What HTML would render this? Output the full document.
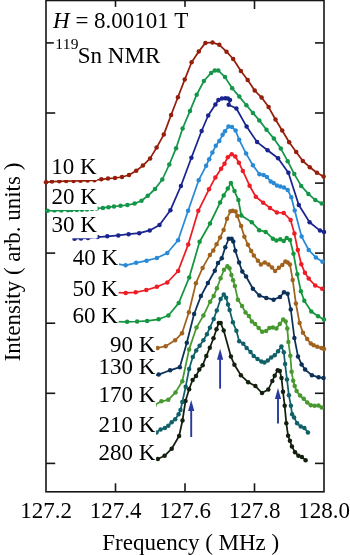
<!DOCTYPE html>
<html><head><meta charset="utf-8"><style>
html,body{margin:0;padding:0;background:#fff;width:350px;height:555px;overflow:hidden}
svg{display:block}
text{font-family:"Liberation Serif",serif;fill:#000}
.t{opacity:0.999}
</style></head><body>
<svg width="350" height="555" viewBox="0 0 350 555">
<rect width="350" height="555" fill="#fff"/>

<g stroke="#161616" stroke-width="1.6" fill="none">
<rect x="46" y="0.5" width="278" height="491.3"/>
<line x1="115.5" y1="491.8" x2="115.5" y2="483.3"/><line x1="115.5" y1="0.5" x2="115.5" y2="9"/>
<line x1="185.0" y1="491.8" x2="185.0" y2="483.3"/><line x1="185.0" y1="0.5" x2="185.0" y2="9"/>
<line x1="254.5" y1="491.8" x2="254.5" y2="483.3"/><line x1="254.5" y1="0.5" x2="254.5" y2="9"/>
<line x1="46" y1="42.9" x2="55.2" y2="42.9"/>
<line x1="324" y1="42.9" x2="315" y2="42.9"/>
<line x1="46" y1="113.0" x2="55.2" y2="113.0"/>
<line x1="324" y1="113.0" x2="315" y2="113.0"/>
<line x1="324" y1="183.1" x2="315" y2="183.1"/>
<line x1="46" y1="253.1" x2="55.2" y2="253.1"/>
<line x1="324" y1="253.1" x2="315" y2="253.1"/>
<line x1="46" y1="323.2" x2="55.2" y2="323.2"/>
<line x1="324" y1="323.2" x2="315" y2="323.2"/>
<line x1="46" y1="393.3" x2="55.2" y2="393.3"/>
<line x1="324" y1="393.3" x2="315" y2="393.3"/>
<line x1="46" y1="463.4" x2="55.2" y2="463.4"/>
<line x1="324" y1="463.4" x2="315" y2="463.4"/>
</g>
<polyline points="150.0,461.5 157.8,459.0 164.6,455.8 171.7,448.7 179.1,436.0 182.5,420.5 185.5,400.9 189.1,389.2 192.6,380.0 196.0,376.1 199.3,369.6 202.7,365.2 206.3,355.9 209.8,347.8 213.5,338.2 216.5,329.2 218.8,323.0 220.7,323.0 223.7,330.6 230.9,356.6 234.4,364.7 240.9,375.3 248.2,382.2 255.4,386.1 262.0,393.0 268.3,389.5 272.3,381.0 274.7,375.8 277.7,370.2 279.8,371.0 281.5,377.9 283.0,391.8 284.7,405.8 286.3,423.2 288.1,435.8 289.9,440.8 291.9,446.5 295.0,452.2 298.4,455.7 301.9,457.1 305.6,460.2" fill="none" stroke="#14200f" stroke-width="1.75" stroke-linejoin="round" stroke-linecap="round"/>
<g fill="#14200f"><circle cx="157.8" cy="459.0" r="2.25"/><circle cx="164.6" cy="455.8" r="2.25"/><circle cx="171.7" cy="448.7" r="2.25"/><circle cx="179.1" cy="436.0" r="2.25"/><circle cx="182.5" cy="420.5" r="2.25"/><circle cx="185.5" cy="400.9" r="2.25"/><circle cx="189.1" cy="389.2" r="2.25"/><circle cx="192.6" cy="380.0" r="2.25"/><circle cx="196.0" cy="376.1" r="2.25"/><circle cx="199.3" cy="369.6" r="2.25"/><circle cx="202.7" cy="365.2" r="2.25"/><circle cx="206.3" cy="355.9" r="2.25"/><circle cx="209.8" cy="347.8" r="2.25"/><circle cx="213.5" cy="338.2" r="2.25"/><circle cx="216.5" cy="329.2" r="2.25"/><circle cx="218.8" cy="323.0" r="2.25"/><circle cx="220.7" cy="323.0" r="2.25"/><circle cx="223.7" cy="330.6" r="2.25"/><circle cx="230.9" cy="356.6" r="2.25"/><circle cx="234.4" cy="364.7" r="2.25"/><circle cx="240.9" cy="375.3" r="2.25"/><circle cx="248.2" cy="382.2" r="2.25"/><circle cx="255.4" cy="386.1" r="2.25"/><circle cx="262.0" cy="393.0" r="2.25"/><circle cx="268.3" cy="389.5" r="2.25"/><circle cx="272.3" cy="381.0" r="2.25"/><circle cx="274.7" cy="375.8" r="2.25"/><circle cx="277.7" cy="370.2" r="2.25"/><circle cx="279.8" cy="371.0" r="2.25"/><circle cx="281.5" cy="377.9" r="2.25"/><circle cx="283.0" cy="391.8" r="2.25"/><circle cx="284.7" cy="405.8" r="2.25"/><circle cx="286.3" cy="423.2" r="2.25"/><circle cx="288.1" cy="435.8" r="2.25"/><circle cx="289.9" cy="440.8" r="2.25"/><circle cx="291.9" cy="446.5" r="2.25"/><circle cx="295.0" cy="452.2" r="2.25"/><circle cx="298.4" cy="455.7" r="2.25"/><circle cx="301.9" cy="457.1" r="2.25"/><circle cx="305.6" cy="460.2" r="2.25"/></g>
<polyline points="150.0,434.5 156.5,432.4 160.6,429.4 164.9,428.0 168.3,425.8 171.7,422.2 175.2,419.3 178.6,414.2 180.5,410.0 182.3,402.1 185.7,386.7 189.1,369.0 192.8,357.0 196.2,350.5 199.6,345.7 203.4,340.3 206.9,334.2 209.9,327.7 213.7,319.0 216.8,310.4 220.6,298.9 223.8,294.6 226.1,297.7 228.0,304.4 229.6,310.0 232.9,322.3 236.4,330.8 239.2,341.3 243.3,343.7 246.6,347.9 250.5,352.0 253.7,355.9 257.5,359.0 261.4,361.6 264.4,362.4 267.8,360.4 271.2,357.6 274.7,355.2 278.1,351.3 281.4,346.4 283.8,352.3 285.1,364.1 287.0,379.5 288.9,395.3 290.9,405.8 292.1,414.2 294.1,417.4 297.1,423.3 300.8,426.6 304.4,428.0 307.9,432.5" fill="none" stroke="#0f6068" stroke-width="1.75" stroke-linejoin="round" stroke-linecap="round"/>
<g fill="#0f6068"><circle cx="156.5" cy="432.4" r="2.25"/><circle cx="160.6" cy="429.4" r="2.25"/><circle cx="164.9" cy="428.0" r="2.25"/><circle cx="168.3" cy="425.8" r="2.25"/><circle cx="171.7" cy="422.2" r="2.25"/><circle cx="175.2" cy="419.3" r="2.25"/><circle cx="178.6" cy="414.2" r="2.25"/><circle cx="180.5" cy="410.0" r="2.25"/><circle cx="182.3" cy="402.1" r="2.25"/><circle cx="185.7" cy="386.7" r="2.25"/><circle cx="189.1" cy="369.0" r="2.25"/><circle cx="192.8" cy="357.0" r="2.25"/><circle cx="196.2" cy="350.5" r="2.25"/><circle cx="199.6" cy="345.7" r="2.25"/><circle cx="203.4" cy="340.3" r="2.25"/><circle cx="206.9" cy="334.2" r="2.25"/><circle cx="209.9" cy="327.7" r="2.25"/><circle cx="213.7" cy="319.0" r="2.25"/><circle cx="216.8" cy="310.4" r="2.25"/><circle cx="220.6" cy="298.9" r="2.25"/><circle cx="223.8" cy="294.6" r="2.25"/><circle cx="226.1" cy="297.7" r="2.25"/><circle cx="228.0" cy="304.4" r="2.25"/><circle cx="229.6" cy="310.0" r="2.25"/><circle cx="232.9" cy="322.3" r="2.25"/><circle cx="236.4" cy="330.8" r="2.25"/><circle cx="239.2" cy="341.3" r="2.25"/><circle cx="243.3" cy="343.7" r="2.25"/><circle cx="246.6" cy="347.9" r="2.25"/><circle cx="250.5" cy="352.0" r="2.25"/><circle cx="253.7" cy="355.9" r="2.25"/><circle cx="257.5" cy="359.0" r="2.25"/><circle cx="261.4" cy="361.6" r="2.25"/><circle cx="264.4" cy="362.4" r="2.25"/><circle cx="267.8" cy="360.4" r="2.25"/><circle cx="271.2" cy="357.6" r="2.25"/><circle cx="274.7" cy="355.2" r="2.25"/><circle cx="278.1" cy="351.3" r="2.25"/><circle cx="281.4" cy="346.4" r="2.25"/><circle cx="283.8" cy="352.3" r="2.25"/><circle cx="285.1" cy="364.1" r="2.25"/><circle cx="287.0" cy="379.5" r="2.25"/><circle cx="288.9" cy="395.3" r="2.25"/><circle cx="290.9" cy="405.8" r="2.25"/><circle cx="292.1" cy="414.2" r="2.25"/><circle cx="294.1" cy="417.4" r="2.25"/><circle cx="297.1" cy="423.3" r="2.25"/><circle cx="300.8" cy="426.6" r="2.25"/><circle cx="304.4" cy="428.0" r="2.25"/><circle cx="307.9" cy="432.5" r="2.25"/></g>
<polyline points="151.0,406.6 154.8,405.0 161.4,401.3 168.3,399.8 175.5,392.4 182.3,381.3 189.1,349.4 196.5,327.5 203.4,315.6 210.1,301.7 213.7,296.0 216.9,288.3 220.6,278.3 224.0,269.7 227.4,266.3 229.5,268.2 231.4,274.9 233.1,280.3 234.9,286.1 237.9,299.8 242.0,305.9 245.5,312.5 248.9,316.1 251.9,321.5 255.1,324.0 258.7,328.1 262.2,331.7 266.1,331.0 269.3,328.1 272.9,327.5 276.4,328.4 279.8,324.0 283.2,319.4 285.7,321.5 287.3,328.4 288.4,342.0 290.3,355.7 291.6,371.8 293.2,380.8 294.7,385.9 296.6,391.1 300.1,395.6 303.7,398.8 307.3,402.6 310.8,405.2 314.6,405.8 318.5,405.6 321.7,407.4" fill="none" stroke="#47992f" stroke-width="1.75" stroke-linejoin="round" stroke-linecap="round"/>
<g fill="#47992f"><circle cx="154.8" cy="405.0" r="2.25"/><circle cx="161.4" cy="401.3" r="2.25"/><circle cx="168.3" cy="399.8" r="2.25"/><circle cx="175.5" cy="392.4" r="2.25"/><circle cx="182.3" cy="381.3" r="2.25"/><circle cx="189.1" cy="349.4" r="2.25"/><circle cx="196.5" cy="327.5" r="2.25"/><circle cx="203.4" cy="315.6" r="2.25"/><circle cx="210.1" cy="301.7" r="2.25"/><circle cx="213.7" cy="296.0" r="2.25"/><circle cx="216.9" cy="288.3" r="2.25"/><circle cx="220.6" cy="278.3" r="2.25"/><circle cx="224.0" cy="269.7" r="2.25"/><circle cx="227.4" cy="266.3" r="2.25"/><circle cx="229.5" cy="268.2" r="2.25"/><circle cx="231.4" cy="274.9" r="2.25"/><circle cx="233.1" cy="280.3" r="2.25"/><circle cx="234.9" cy="286.1" r="2.25"/><circle cx="237.9" cy="299.8" r="2.25"/><circle cx="242.0" cy="305.9" r="2.25"/><circle cx="245.5" cy="312.5" r="2.25"/><circle cx="248.9" cy="316.1" r="2.25"/><circle cx="251.9" cy="321.5" r="2.25"/><circle cx="255.1" cy="324.0" r="2.25"/><circle cx="258.7" cy="328.1" r="2.25"/><circle cx="262.2" cy="331.7" r="2.25"/><circle cx="266.1" cy="331.0" r="2.25"/><circle cx="269.3" cy="328.1" r="2.25"/><circle cx="272.9" cy="327.5" r="2.25"/><circle cx="276.4" cy="328.4" r="2.25"/><circle cx="279.8" cy="324.0" r="2.25"/><circle cx="283.2" cy="319.4" r="2.25"/><circle cx="285.7" cy="321.5" r="2.25"/><circle cx="287.3" cy="328.4" r="2.25"/><circle cx="288.4" cy="342.0" r="2.25"/><circle cx="290.3" cy="355.7" r="2.25"/><circle cx="291.6" cy="371.8" r="2.25"/><circle cx="293.2" cy="380.8" r="2.25"/><circle cx="294.7" cy="385.9" r="2.25"/><circle cx="296.6" cy="391.1" r="2.25"/><circle cx="300.1" cy="395.6" r="2.25"/><circle cx="303.7" cy="398.8" r="2.25"/><circle cx="307.3" cy="402.6" r="2.25"/><circle cx="310.8" cy="405.2" r="2.25"/><circle cx="314.6" cy="405.8" r="2.25"/><circle cx="318.5" cy="405.6" r="2.25"/><circle cx="321.7" cy="407.4" r="2.25"/></g>
<polyline points="150.0,375.8 158.7,374.6 170.1,370.3 179.8,367.2 186.8,342.8 194.1,314.0 200.9,296.1 207.9,283.0 214.8,270.7 218.0,263.0 221.8,258.2 225.3,247.3 228.7,238.7 231.6,238.7 233.3,241.6 235.3,250.7 239.1,262.5 242.3,271.6 246.1,276.5 252.9,288.7 259.4,295.6 266.3,297.9 273.6,299.7 280.0,296.9 284.0,292.3 287.6,293.7 290.8,309.5 294.4,338.0 298.0,356.4 301.6,364.4 305.1,369.6 311.9,375.2 318.6,377.3 323.5,378.0" fill="none" stroke="#0c3159" stroke-width="1.75" stroke-linejoin="round" stroke-linecap="round"/>
<g fill="#0c3159"><circle cx="158.7" cy="374.6" r="2.25"/><circle cx="170.1" cy="370.3" r="2.25"/><circle cx="179.8" cy="367.2" r="2.25"/><circle cx="186.8" cy="342.8" r="2.25"/><circle cx="194.1" cy="314.0" r="2.25"/><circle cx="200.9" cy="296.1" r="2.25"/><circle cx="207.9" cy="283.0" r="2.25"/><circle cx="214.8" cy="270.7" r="2.25"/><circle cx="218.0" cy="263.0" r="2.25"/><circle cx="221.8" cy="258.2" r="2.25"/><circle cx="225.3" cy="247.3" r="2.25"/><circle cx="228.7" cy="238.7" r="2.25"/><circle cx="231.6" cy="238.7" r="2.25"/><circle cx="233.3" cy="241.6" r="2.25"/><circle cx="235.3" cy="250.7" r="2.25"/><circle cx="239.1" cy="262.5" r="2.25"/><circle cx="242.3" cy="271.6" r="2.25"/><circle cx="246.1" cy="276.5" r="2.25"/><circle cx="252.9" cy="288.7" r="2.25"/><circle cx="259.4" cy="295.6" r="2.25"/><circle cx="266.3" cy="297.9" r="2.25"/><circle cx="273.6" cy="299.7" r="2.25"/><circle cx="280.0" cy="296.9" r="2.25"/><circle cx="284.0" cy="292.3" r="2.25"/><circle cx="287.6" cy="293.7" r="2.25"/><circle cx="290.8" cy="309.5" r="2.25"/><circle cx="294.4" cy="338.0" r="2.25"/><circle cx="298.0" cy="356.4" r="2.25"/><circle cx="301.6" cy="364.4" r="2.25"/><circle cx="305.1" cy="369.6" r="2.25"/><circle cx="311.9" cy="375.2" r="2.25"/><circle cx="318.6" cy="377.3" r="2.25"/><circle cx="323.5" cy="378.0" r="2.25"/></g>
<polyline points="150.0,348.7 157.5,348.0 165.6,346.2 175.1,340.3 182.0,333.2 188.9,312.3 195.9,283.2 202.6,267.9 209.9,254.9 213.3,250.5 216.6,244.2 220.1,237.6 223.6,229.9 227.0,218.7 230.4,211.3 232.7,210.7 235.6,211.6 237.3,215.9 241.1,226.1 244.4,236.7 247.9,244.8 251.2,251.0 253.8,255.5 257.9,260.7 260.9,264.4 264.8,262.4 268.5,264.5 272.0,267.4 275.1,271.1 278.9,267.7 282.3,264.9 285.4,261.4 287.7,262.6 289.9,264.4 292.7,279.9 295.9,303.5 299.6,323.1 303.0,332.8 307.2,339.0 310.8,343.6 313.7,345.2 317.3,346.7 321.4,348.0 324.0,349.0" fill="none" stroke="#a0621c" stroke-width="1.75" stroke-linejoin="round" stroke-linecap="round"/>
<g fill="#a0621c"><circle cx="157.5" cy="348.0" r="2.25"/><circle cx="165.6" cy="346.2" r="2.25"/><circle cx="175.1" cy="340.3" r="2.25"/><circle cx="182.0" cy="333.2" r="2.25"/><circle cx="188.9" cy="312.3" r="2.25"/><circle cx="195.9" cy="283.2" r="2.25"/><circle cx="202.6" cy="267.9" r="2.25"/><circle cx="209.9" cy="254.9" r="2.25"/><circle cx="213.3" cy="250.5" r="2.25"/><circle cx="216.6" cy="244.2" r="2.25"/><circle cx="220.1" cy="237.6" r="2.25"/><circle cx="223.6" cy="229.9" r="2.25"/><circle cx="227.0" cy="218.7" r="2.25"/><circle cx="230.4" cy="211.3" r="2.25"/><circle cx="232.7" cy="210.7" r="2.25"/><circle cx="235.6" cy="211.6" r="2.25"/><circle cx="237.3" cy="215.9" r="2.25"/><circle cx="241.1" cy="226.1" r="2.25"/><circle cx="244.4" cy="236.7" r="2.25"/><circle cx="247.9" cy="244.8" r="2.25"/><circle cx="251.2" cy="251.0" r="2.25"/><circle cx="253.8" cy="255.5" r="2.25"/><circle cx="257.9" cy="260.7" r="2.25"/><circle cx="260.9" cy="264.4" r="2.25"/><circle cx="264.8" cy="262.4" r="2.25"/><circle cx="268.5" cy="264.5" r="2.25"/><circle cx="272.0" cy="267.4" r="2.25"/><circle cx="275.1" cy="271.1" r="2.25"/><circle cx="278.9" cy="267.7" r="2.25"/><circle cx="282.3" cy="264.9" r="2.25"/><circle cx="285.4" cy="261.4" r="2.25"/><circle cx="287.7" cy="262.6" r="2.25"/><circle cx="289.9" cy="264.4" r="2.25"/><circle cx="292.7" cy="279.9" r="2.25"/><circle cx="295.9" cy="303.5" r="2.25"/><circle cx="299.6" cy="323.1" r="2.25"/><circle cx="303.0" cy="332.8" r="2.25"/><circle cx="307.2" cy="339.0" r="2.25"/><circle cx="310.8" cy="343.6" r="2.25"/><circle cx="313.7" cy="345.2" r="2.25"/><circle cx="317.3" cy="346.7" r="2.25"/><circle cx="321.4" cy="348.0" r="2.25"/><circle cx="324.0" cy="349.0" r="2.25"/></g>
<polyline points="112.0,321.6 127.1,321.8 137.1,321.5 147.1,320.9 158.6,319.3 168.4,315.5 178.7,303.1 189.2,277.5 199.6,241.8 210.0,223.5 220.1,202.6 223.7,195.4 227.8,188.6 230.9,182.9 234.5,191.1 238.4,200.1 241.3,215.5 251.8,222.2 259.2,230.2 265.7,231.9 272.9,238.7 276.4,240.5 280.3,239.3 283.7,241.0 286.7,237.9 290.1,240.0 293.5,253.8 297.3,274.2 300.9,291.3 304.3,300.8 311.3,311.5 318.1,316.3 323.9,319.5" fill="none" stroke="#14963f" stroke-width="1.75" stroke-linejoin="round" stroke-linecap="round"/>
<g fill="#14963f"><circle cx="127.1" cy="321.8" r="2.25"/><circle cx="137.1" cy="321.5" r="2.25"/><circle cx="147.1" cy="320.9" r="2.25"/><circle cx="158.6" cy="319.3" r="2.25"/><circle cx="168.4" cy="315.5" r="2.25"/><circle cx="178.7" cy="303.1" r="2.25"/><circle cx="189.2" cy="277.5" r="2.25"/><circle cx="199.6" cy="241.8" r="2.25"/><circle cx="210.0" cy="223.5" r="2.25"/><circle cx="220.1" cy="202.6" r="2.25"/><circle cx="223.7" cy="195.4" r="2.25"/><circle cx="227.8" cy="188.6" r="2.25"/><circle cx="230.9" cy="182.9" r="2.25"/><circle cx="234.5" cy="191.1" r="2.25"/><circle cx="238.4" cy="200.1" r="2.25"/><circle cx="241.3" cy="215.5" r="2.25"/><circle cx="251.8" cy="222.2" r="2.25"/><circle cx="259.2" cy="230.2" r="2.25"/><circle cx="265.7" cy="231.9" r="2.25"/><circle cx="272.9" cy="238.7" r="2.25"/><circle cx="276.4" cy="240.5" r="2.25"/><circle cx="280.3" cy="239.3" r="2.25"/><circle cx="283.7" cy="241.0" r="2.25"/><circle cx="286.7" cy="237.9" r="2.25"/><circle cx="290.1" cy="240.0" r="2.25"/><circle cx="293.5" cy="253.8" r="2.25"/><circle cx="297.3" cy="274.2" r="2.25"/><circle cx="300.9" cy="291.3" r="2.25"/><circle cx="304.3" cy="300.8" r="2.25"/><circle cx="311.3" cy="311.5" r="2.25"/><circle cx="318.1" cy="316.3" r="2.25"/><circle cx="323.9" cy="319.5" r="2.25"/></g>
<polyline points="112.0,292.5 125.7,292.9 135.7,292.3 146.3,290.0 156.9,286.8 167.3,282.5 178.1,271.0 188.2,244.6 198.3,210.8 209.0,189.3 215.4,177.4 221.1,168.7 224.5,163.7 227.8,157.2 231.7,154.3 235.3,156.5 238.9,162.7 242.8,170.9 249.6,185.7 255.8,196.7 263.2,202.7 270.0,207.9 276.9,212.5 283.7,213.0 290.6,219.9 294.4,233.6 297.8,250.0 301.3,264.3 304.9,272.7 308.7,278.6 315.2,285.5 322.2,288.7" fill="none" stroke="#ee1c24" stroke-width="1.75" stroke-linejoin="round" stroke-linecap="round"/>
<g fill="#ee1c24"><circle cx="125.7" cy="292.9" r="2.25"/><circle cx="135.7" cy="292.3" r="2.25"/><circle cx="146.3" cy="290.0" r="2.25"/><circle cx="156.9" cy="286.8" r="2.25"/><circle cx="167.3" cy="282.5" r="2.25"/><circle cx="178.1" cy="271.0" r="2.25"/><circle cx="188.2" cy="244.6" r="2.25"/><circle cx="198.3" cy="210.8" r="2.25"/><circle cx="209.0" cy="189.3" r="2.25"/><circle cx="215.4" cy="177.4" r="2.25"/><circle cx="221.1" cy="168.7" r="2.25"/><circle cx="224.5" cy="163.7" r="2.25"/><circle cx="227.8" cy="157.2" r="2.25"/><circle cx="231.7" cy="154.3" r="2.25"/><circle cx="235.3" cy="156.5" r="2.25"/><circle cx="238.9" cy="162.7" r="2.25"/><circle cx="242.8" cy="170.9" r="2.25"/><circle cx="249.6" cy="185.7" r="2.25"/><circle cx="255.8" cy="196.7" r="2.25"/><circle cx="263.2" cy="202.7" r="2.25"/><circle cx="270.0" cy="207.9" r="2.25"/><circle cx="276.9" cy="212.5" r="2.25"/><circle cx="283.7" cy="213.0" r="2.25"/><circle cx="290.6" cy="219.9" r="2.25"/><circle cx="294.4" cy="233.6" r="2.25"/><circle cx="297.8" cy="250.0" r="2.25"/><circle cx="301.3" cy="264.3" r="2.25"/><circle cx="304.9" cy="272.7" r="2.25"/><circle cx="308.7" cy="278.6" r="2.25"/><circle cx="315.2" cy="285.5" r="2.25"/><circle cx="322.2" cy="288.7" r="2.25"/></g>
<polyline points="114.0,263.3 125.6,265.3 136.1,262.8 146.6,260.7 156.9,258.0 167.3,253.0 178.1,240.3 188.1,210.8 198.7,180.2 206.1,165.8 209.2,159.2 212.4,152.6 215.8,145.7 219.3,141.0 222.6,134.8 225.0,131.2 228.5,126.5 232.0,127.0 235.6,130.6 239.2,139.8 246.1,153.6 252.9,165.3 259.5,174.3 263.6,175.0 266.9,177.1 270.7,181.4 273.6,182.9 276.9,185.4 280.3,186.4 284.0,187.4 287.7,189.9 291.3,197.3 294.7,210.5 301.6,236.6 308.7,250.0 315.9,257.5 322.5,261.8" fill="none" stroke="#2a8ad6" stroke-width="1.75" stroke-linejoin="round" stroke-linecap="round"/>
<g fill="#2a8ad6"><circle cx="125.6" cy="265.3" r="2.25"/><circle cx="136.1" cy="262.8" r="2.25"/><circle cx="146.6" cy="260.7" r="2.25"/><circle cx="156.9" cy="258.0" r="2.25"/><circle cx="167.3" cy="253.0" r="2.25"/><circle cx="178.1" cy="240.3" r="2.25"/><circle cx="188.1" cy="210.8" r="2.25"/><circle cx="198.7" cy="180.2" r="2.25"/><circle cx="206.1" cy="165.8" r="2.25"/><circle cx="209.2" cy="159.2" r="2.25"/><circle cx="212.4" cy="152.6" r="2.25"/><circle cx="215.8" cy="145.7" r="2.25"/><circle cx="219.3" cy="141.0" r="2.25"/><circle cx="222.6" cy="134.8" r="2.25"/><circle cx="225.0" cy="131.2" r="2.25"/><circle cx="228.5" cy="126.5" r="2.25"/><circle cx="232.0" cy="127.0" r="2.25"/><circle cx="235.6" cy="130.6" r="2.25"/><circle cx="239.2" cy="139.8" r="2.25"/><circle cx="246.1" cy="153.6" r="2.25"/><circle cx="252.9" cy="165.3" r="2.25"/><circle cx="259.5" cy="174.3" r="2.25"/><circle cx="263.6" cy="175.0" r="2.25"/><circle cx="266.9" cy="177.1" r="2.25"/><circle cx="270.7" cy="181.4" r="2.25"/><circle cx="273.6" cy="182.9" r="2.25"/><circle cx="276.9" cy="185.4" r="2.25"/><circle cx="280.3" cy="186.4" r="2.25"/><circle cx="284.0" cy="187.4" r="2.25"/><circle cx="287.7" cy="189.9" r="2.25"/><circle cx="291.3" cy="197.3" r="2.25"/><circle cx="294.7" cy="210.5" r="2.25"/><circle cx="301.6" cy="236.6" r="2.25"/><circle cx="308.7" cy="250.0" r="2.25"/><circle cx="315.9" cy="257.5" r="2.25"/><circle cx="322.5" cy="261.8" r="2.25"/></g>
<polyline points="74.5,238.7 81.0,238.4 88.0,238.1 97.5,237.1 107.3,236.3 118.3,235.4 128.6,234.2 139.2,233.2 149.7,230.4 159.5,225.0 170.4,210.2 180.9,186.0 191.4,157.7 201.6,131.0 208.2,115.5 215.4,104.4 218.4,100.1 221.9,98.4 225.3,98.2 227.9,98.4 230.0,100.1 228.7,104.7 236.4,108.5 246.6,126.6 257.1,142.1 267.6,150.3 278.1,158.3 288.4,172.7 298.8,205.0 309.6,222.2 320.0,230.6 324.0,232.0" fill="none" stroke="#1a2490" stroke-width="1.75" stroke-linejoin="round" stroke-linecap="round"/>
<g fill="#1a2490"><circle cx="74.5" cy="238.7" r="2.25"/><circle cx="81.0" cy="238.4" r="2.25"/><circle cx="88.0" cy="238.1" r="2.25"/><circle cx="97.5" cy="237.1" r="2.25"/><circle cx="107.3" cy="236.3" r="2.25"/><circle cx="118.3" cy="235.4" r="2.25"/><circle cx="128.6" cy="234.2" r="2.25"/><circle cx="139.2" cy="233.2" r="2.25"/><circle cx="149.7" cy="230.4" r="2.25"/><circle cx="159.5" cy="225.0" r="2.25"/><circle cx="170.4" cy="210.2" r="2.25"/><circle cx="180.9" cy="186.0" r="2.25"/><circle cx="191.4" cy="157.7" r="2.25"/><circle cx="201.6" cy="131.0" r="2.25"/><circle cx="208.2" cy="115.5" r="2.25"/><circle cx="215.4" cy="104.4" r="2.25"/><circle cx="218.4" cy="100.1" r="2.25"/><circle cx="221.9" cy="98.4" r="2.25"/><circle cx="225.3" cy="98.2" r="2.25"/><circle cx="227.9" cy="98.4" r="2.25"/><circle cx="230.0" cy="100.1" r="2.25"/><circle cx="228.7" cy="104.7" r="2.25"/><circle cx="236.4" cy="108.5" r="2.25"/><circle cx="246.6" cy="126.6" r="2.25"/><circle cx="257.1" cy="142.1" r="2.25"/><circle cx="267.6" cy="150.3" r="2.25"/><circle cx="278.1" cy="158.3" r="2.25"/><circle cx="288.4" cy="172.7" r="2.25"/><circle cx="298.8" cy="205.0" r="2.25"/><circle cx="309.6" cy="222.2" r="2.25"/><circle cx="320.0" cy="230.6" r="2.25"/><circle cx="324.0" cy="232.0" r="2.25"/></g>
<polyline points="47.5,210.7 54.4,210.6 61.3,210.4 68.0,210.2 71.6,210.1 76.8,209.9 81.9,209.7 87.0,209.4 92.0,209.1 96.9,208.5 102.9,207.9 108.5,207.2 114.0,206.5 120.5,205.8 127.4,205.0 134.6,203.6 141.5,200.7 147.8,195.8 155.0,189.0 162.3,179.5 169.3,164.5 176.1,148.2 182.6,128.5 190.0,110.9 196.7,94.7 203.9,81.0 211.1,72.9 214.8,70.6 218.3,70.5 225.0,77.1 232.2,88.3 239.3,96.6 246.4,105.2 252.9,112.9 259.3,120.4 266.5,129.8 273.9,138.6 280.8,148.6 287.7,161.2 294.3,174.1 301.2,185.9 308.4,193.9 315.3,200.1 321.8,203.5" fill="none" stroke="#14964a" stroke-width="1.75" stroke-linejoin="round" stroke-linecap="round"/>
<g fill="#14964a"><circle cx="47.5" cy="210.7" r="2.25"/><circle cx="54.4" cy="210.6" r="2.25"/><circle cx="61.3" cy="210.4" r="2.25"/><circle cx="68.0" cy="210.2" r="2.25"/><circle cx="71.6" cy="210.1" r="2.25"/><circle cx="76.8" cy="209.9" r="2.25"/><circle cx="81.9" cy="209.7" r="2.25"/><circle cx="87.0" cy="209.4" r="2.25"/><circle cx="92.0" cy="209.1" r="2.25"/><circle cx="96.9" cy="208.5" r="2.25"/><circle cx="102.9" cy="207.9" r="2.25"/><circle cx="108.5" cy="207.2" r="2.25"/><circle cx="114.0" cy="206.5" r="2.25"/><circle cx="120.5" cy="205.8" r="2.25"/><circle cx="127.4" cy="205.0" r="2.25"/><circle cx="134.6" cy="203.6" r="2.25"/><circle cx="141.5" cy="200.7" r="2.25"/><circle cx="147.8" cy="195.8" r="2.25"/><circle cx="155.0" cy="189.0" r="2.25"/><circle cx="162.3" cy="179.5" r="2.25"/><circle cx="169.3" cy="164.5" r="2.25"/><circle cx="176.1" cy="148.2" r="2.25"/><circle cx="182.6" cy="128.5" r="2.25"/><circle cx="190.0" cy="110.9" r="2.25"/><circle cx="196.7" cy="94.7" r="2.25"/><circle cx="203.9" cy="81.0" r="2.25"/><circle cx="211.1" cy="72.9" r="2.25"/><circle cx="214.8" cy="70.6" r="2.25"/><circle cx="218.3" cy="70.5" r="2.25"/><circle cx="225.0" cy="77.1" r="2.25"/><circle cx="232.2" cy="88.3" r="2.25"/><circle cx="239.3" cy="96.6" r="2.25"/><circle cx="246.4" cy="105.2" r="2.25"/><circle cx="252.9" cy="112.9" r="2.25"/><circle cx="259.3" cy="120.4" r="2.25"/><circle cx="266.5" cy="129.8" r="2.25"/><circle cx="273.9" cy="138.6" r="2.25"/><circle cx="280.8" cy="148.6" r="2.25"/><circle cx="287.7" cy="161.2" r="2.25"/><circle cx="294.3" cy="174.1" r="2.25"/><circle cx="301.2" cy="185.9" r="2.25"/><circle cx="308.4" cy="193.9" r="2.25"/><circle cx="315.3" cy="200.1" r="2.25"/><circle cx="321.8" cy="203.5" r="2.25"/></g>
<polyline points="46.0,182.3 52.0,181.6 59.3,181.3 66.2,181.1 73.6,181.0 80.5,180.8 87.6,180.6 94.5,180.2 101.4,179.3 108.0,178.6 115.0,178.0 122.0,177.0 129.0,175.0 136.2,170.8 142.9,165.6 150.1,158.4 156.6,147.6 163.8,134.6 171.1,115.0 177.9,97.2 184.7,79.6 191.6,62.3 198.8,51.5 205.4,42.9 212.5,42.5 219.3,44.8 226.5,51.7 233.2,59.0 240.9,71.0 247.7,80.0 254.7,90.5 261.6,97.6 268.6,107.1 275.5,119.5 282.2,130.5 289.2,142.2 296.2,151.9 302.8,161.0 309.8,167.2 316.9,172.8 323.6,176.5" fill="none" stroke="#951f0c" stroke-width="1.75" stroke-linejoin="round" stroke-linecap="round"/>
<g fill="#951f0c"><circle cx="46.0" cy="182.3" r="2.25"/><circle cx="52.0" cy="181.6" r="2.25"/><circle cx="59.3" cy="181.3" r="2.25"/><circle cx="66.2" cy="181.1" r="2.25"/><circle cx="73.6" cy="181.0" r="2.25"/><circle cx="80.5" cy="180.8" r="2.25"/><circle cx="87.6" cy="180.6" r="2.25"/><circle cx="94.5" cy="180.2" r="2.25"/><circle cx="101.4" cy="179.3" r="2.25"/><circle cx="108.0" cy="178.6" r="2.25"/><circle cx="115.0" cy="178.0" r="2.25"/><circle cx="122.0" cy="177.0" r="2.25"/><circle cx="129.0" cy="175.0" r="2.25"/><circle cx="136.2" cy="170.8" r="2.25"/><circle cx="142.9" cy="165.6" r="2.25"/><circle cx="150.1" cy="158.4" r="2.25"/><circle cx="156.6" cy="147.6" r="2.25"/><circle cx="163.8" cy="134.6" r="2.25"/><circle cx="171.1" cy="115.0" r="2.25"/><circle cx="177.9" cy="97.2" r="2.25"/><circle cx="184.7" cy="79.6" r="2.25"/><circle cx="191.6" cy="62.3" r="2.25"/><circle cx="198.8" cy="51.5" r="2.25"/><circle cx="205.4" cy="42.9" r="2.25"/><circle cx="212.5" cy="42.5" r="2.25"/><circle cx="219.3" cy="44.8" r="2.25"/><circle cx="226.5" cy="51.7" r="2.25"/><circle cx="233.2" cy="59.0" r="2.25"/><circle cx="240.9" cy="71.0" r="2.25"/><circle cx="247.7" cy="80.0" r="2.25"/><circle cx="254.7" cy="90.5" r="2.25"/><circle cx="261.6" cy="97.6" r="2.25"/><circle cx="268.6" cy="107.1" r="2.25"/><circle cx="275.5" cy="119.5" r="2.25"/><circle cx="282.2" cy="130.5" r="2.25"/><circle cx="289.2" cy="142.2" r="2.25"/><circle cx="296.2" cy="151.9" r="2.25"/><circle cx="302.8" cy="161.0" r="2.25"/><circle cx="309.8" cy="167.2" r="2.25"/><circle cx="316.9" cy="172.8" r="2.25"/><circle cx="323.6" cy="176.5" r="2.25"/></g>
<g class="t">
<rect x="49.6" y="154.5" width="47.7" height="25.5" fill="#fff"/>
<text x="96.5" y="174" text-anchor="end" font-size="23">10 K</text>
<rect x="49.9" y="184.5" width="47.7" height="25.5" fill="#fff"/>
<text x="96.8" y="204" text-anchor="end" font-size="23">20 K</text>
<rect x="49.9" y="212.8" width="47.7" height="25.5" fill="#fff"/>
<text x="96.8" y="232.3" text-anchor="end" font-size="23">30 K</text>
<rect x="71.3" y="245.5" width="47.7" height="25.5" fill="#fff"/>
<text x="118.2" y="265" text-anchor="end" font-size="23">40 K</text>
<rect x="70.9" y="276.1" width="47.7" height="25.5" fill="#fff"/>
<text x="117.8" y="295.6" text-anchor="end" font-size="23">50 K</text>
<rect x="70.9" y="303.5" width="47.7" height="25.5" fill="#fff"/>
<text x="117.8" y="323" text-anchor="end" font-size="23">60 K</text>
<rect x="108.4" y="332.5" width="47.7" height="25.5" fill="#fff"/>
<text x="155.3" y="352" text-anchor="end" font-size="23">90 K</text>
<rect x="96.9" y="354.5" width="59.2" height="25.5" fill="#fff"/>
<text x="155.3" y="374" text-anchor="end" font-size="23">130 K</text>
<rect x="96.9" y="382.5" width="59.2" height="25.5" fill="#fff"/>
<text x="155.3" y="402" text-anchor="end" font-size="23">170 K</text>
<rect x="96.9" y="412.9" width="59.2" height="25.5" fill="#fff"/>
<text x="155.3" y="432.4" text-anchor="end" font-size="23">210 K</text>
<rect x="96.9" y="440.1" width="59.2" height="25.5" fill="#fff"/>
<text x="155.3" y="459.6" text-anchor="end" font-size="23">280 K</text>
<line x1="191.2" y1="437" x2="191.2" y2="408" stroke="#283a9f" stroke-width="1.9"/><polygon points="191.2,400 188.1,411 194.29999999999998,411" fill="#283a9f"/>
<line x1="220.1" y1="388.6" x2="220.1" y2="356.8" stroke="#283a9f" stroke-width="1.9"/><polygon points="220.1,348.8 217.0,359.8 223.2,359.8" fill="#283a9f"/>
<line x1="278" y1="423.4" x2="278" y2="396" stroke="#283a9f" stroke-width="1.9"/><polygon points="278,388 274.9,399 281.1,399" fill="#283a9f"/>
<text x="46.0" y="517.5" text-anchor="middle" font-size="23">127.2</text>
<text x="115.5" y="517.5" text-anchor="middle" font-size="23">127.4</text>
<text x="185.0" y="517.5" text-anchor="middle" font-size="23">127.6</text>
<text x="254.5" y="517.5" text-anchor="middle" font-size="23">127.8</text>
<text x="324.0" y="517.5" text-anchor="middle" font-size="23">128.0</text>
<text x="190.8" y="549.9" text-anchor="middle" font-size="23">Frequency ( MHz )</text>
<text transform="translate(19.5,262) rotate(-90)" text-anchor="middle" font-size="23">Intensity ( arb. units )</text>
<rect x="51.5" y="6.9" width="140" height="27" fill="#fff"/>
<text x="53" y="28" font-size="23"><tspan font-style="italic">H</tspan> = 8.00101 T</text>
<rect x="53.8" y="36" width="24" height="14" fill="#fff"/>
<text x="55.3" y="48.5" font-size="15.5" letter-spacing="0.3">119</text><text x="77.8" y="63" font-size="23">Sn NMR</text>
</g>
</svg></body></html>
